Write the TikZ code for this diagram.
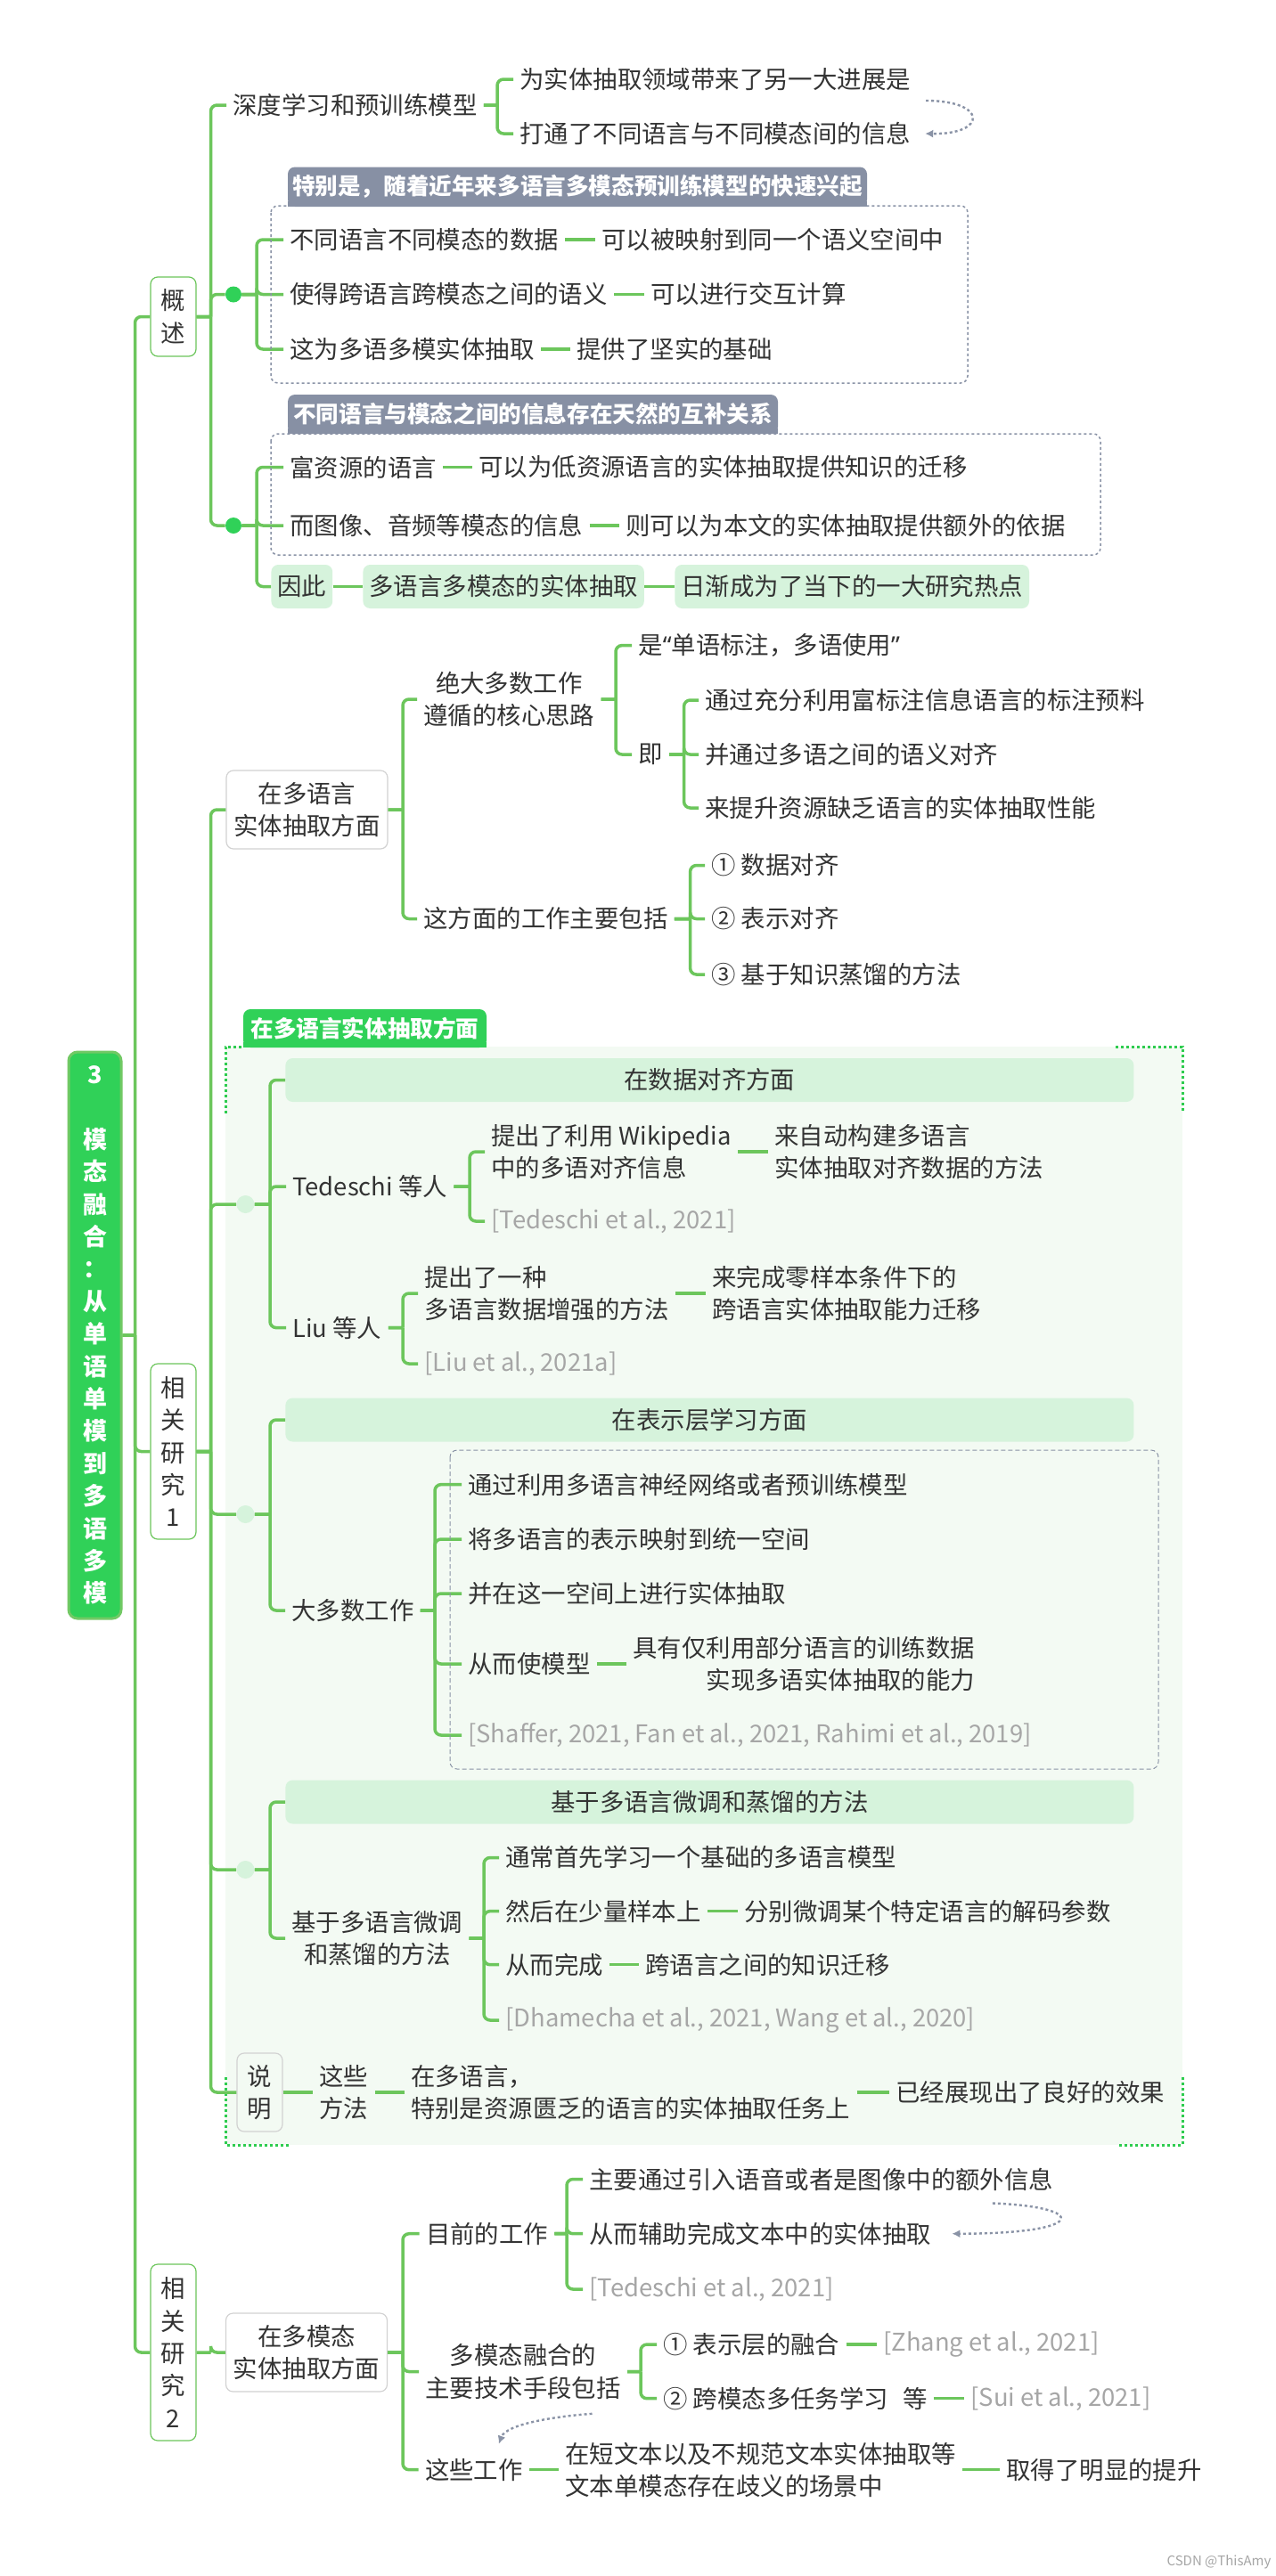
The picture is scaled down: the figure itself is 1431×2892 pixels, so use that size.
\documentclass[tikz,border=0pt]{standalone}
\usepackage{fontspec}
\setmainfont{Noto Sans CJK SC}
\newfontfamily\latinfont{Noto Sans}
\usetikzlibrary{arrows.meta}

\definecolor{linkgreen}{HTML}{6CC65C}
\definecolor{rootgreen}{HTML}{30D158}
\definecolor{rootedge}{HTML}{72C965}
\definecolor{palegreen}{HTML}{D6F3DC}
\definecolor{regiongreen}{HTML}{F3FAF3}
\definecolor{tabgrey}{HTML}{8790A4}
\definecolor{dashgrey}{HTML}{8A93A6}
\definecolor{ink}{HTML}{333333}
\definecolor{citegrey}{HTML}{A6A6A6}
\definecolor{boxgrey}{HTML}{D2D2D2}
\definecolor{framegreen}{HTML}{2ECC4F}

\newcommand{\mainfs}{\fontsize{13.7pt}{18.2pt}\selectfont}
\newcommand{\tabfs}{\fontsize{12.8pt}{15pt}\selectfont\bfseries}
\newcommand{\rootfs}{\fontsize{13.5pt}{18.2pt}\selectfont\bfseries}

\tikzset{
	txt/.style={anchor=west, inner xsep=3.5pt, inner ysep=2pt, text=ink, font=\mainfs, align=left},
	cite/.style={txt, text=citegrey},
	rootbox/.style={fill=rootgreen, draw=rootedge, line width=1.5pt, rounded corners=5pt,
		minimum width=29.5pt, minimum height=318pt, inner sep=0pt, text=white, font=\rootfs, align=center},
	lvbox/.style={draw=linkgreen, line width=0.6pt, fill=white, rounded corners=4pt,
		minimum width=25.5pt, inner sep=0pt, text=ink, font=\mainfs, align=center},
	lbox/.style={draw=boxgrey, line width=0.6pt, fill=white, rounded corners=4pt,
		minimum width=90.5pt, minimum height=44pt, inner sep=0pt, text=ink, font=\mainfs, align=center},
	notebox/.style={lbox, fill=regiongreen, minimum width=25.5pt},
	hdbox/.style={anchor=west, fill=palegreen, rounded corners=4pt, minimum width=476pt,
		minimum height=24.5pt, inner sep=0pt, text=ink, font=\mainfs},
	pill/.style={txt, fill=palegreen, rounded corners=4pt, minimum height=24.5pt},
	tab/.style={fill=tabgrey, rounded corners=4pt, inner sep=0pt, text=white, font=\tabfs},
	gtab/.style={tab, fill=rootgreen},
	dot/.style={circle, fill=rootgreen, minimum size=9pt, inner sep=0pt},
	ldot/.style={circle, fill=palegreen, minimum size=10pt, inner sep=0pt},
	conn/.style={color=linkgreen, line width=1.75pt, rounded corners=3.5pt},
	fork/.style={to path={(\tikztostart.east) -- (#1,0 |- \tikztostart.east)
		(#1,0 |- \tikztostart.east) |- (\tikztotarget.west)}},
	grpbox/.style={draw=dashgrey, line width=0.75pt, dash pattern=on 1.5pt off 1.5pt, rounded corners=4pt},
	grpdash/.style={draw=dashgrey, line width=0.5pt, dash pattern=on 2.5pt off 1.5pt, rounded corners=4pt},
	frame/.style={draw=framegreen, line width=1.5pt, dash pattern=on 1.5pt off 1.5pt},
	rel/.style={draw=dashgrey, line width=1.2pt, dash pattern=on 1.5pt off 1.5pt, -{Latex[length=4.5pt, width=4.5pt]}}
}

\begin{document}
\begin{tikzpicture}[x=0.5pt, y=-0.5pt]
	\useasboundingbox (0,0) rectangle (1431,2892);
	\fill[white] (0,0) rectangle (1431,2892);
	\fill[regiongreen] (253,1175) rectangle (1327,2408);
	\draw[frame] (253,1250) -- (253,1175) -- (273,1175);
	\draw[frame] (1252,1175) -- (1327,1175) -- (1327,1250);
	\draw[frame] (253,2332) -- (253,2408) -- (324,2408);
	\draw[frame] (1256,2408) -- (1327,2408) -- (1327,2332);

	\node[rootbox] (root) at (106.5,1499) {3\\[18.2pt]模\\态\\融\\合\\：\\从\\单\\语\\单\\模\\到\\多\\语\\多\\模};

	\node[lvbox, minimum height=44.5pt] (gaishu) at (194.5,355.5) {概\\述};
	\node[txt] (shendu) at (254,118) {深度学习和预训练模型};
	\node[txt] (s1) at (576,89) {为实体抽取领域带来了另一大进展是};
	\node[txt] (s2) at (576,150) {打通了不同语言与不同模态间的信息};
	\node[dot] (dotA) at (262,330.5) {};
	\node[dot] (dotB) at (262,590) {};
	\node[txt] (g1a) at (318,269) {不同语言不同模态的数据};
	\node[txt] (g1a2) at (668,269) {可以被映射到同一个语义空间中};
	\node[txt] (g1b) at (318,330.5) {使得跨语言跨模态之间的语义};
	\node[txt] (g1b2) at (723,330.5) {可以进行交互计算};
	\node[txt] (g1c) at (318,392) {这为多语多模实体抽取};
	\node[txt] (g1c2) at (640,392) {提供了坚实的基础};
	\node[txt] (g2a) at (318,524.5) {富资源的语言};
	\node[txt] (g2a2) at (530,524.5) {可以为低资源语言的实体抽取提供知识的迁移};
	\node[txt] (g2b) at (318,590) {而图像、音频等模态的信息};
	\node[txt] (g2b2) at (695,590) {则可以为本文的实体抽取提供额外的依据};
	\node[pill] (yinci) at (304,658.5) {因此};
	\node[pill] (duo) at (407,658.5) {多语言多模态的实体抽取};
	\node[pill] (rijian) at (757,658.5) {日渐成为了当下的一大研究热点};

	\node[lvbox, minimum height=98.5pt] (yj1) at (194.5,1629.5) {相\\关\\研\\究\\1};
	\node[lbox] (ml) at (344.5,909) {在多语言\\实体抽取方面};
	\node[txt, align=center] (hx) at (468,785) {绝大多数工作\\遵循的核心思路};
	\node[txt] (bf) at (468,1031.5) {这方面的工作主要包括};
	\node[txt] (sy) at (709,724.6) {是{\latinfont“}单语标注，多语使用{\latinfont”}};
	\node[txt] (ji) at (709,847) {即};
	\node[txt] (j1) at (784,786) {通过充分利用富标注信息语言的标注预料};
	\node[txt] (j2) at (784,847) {并通过多语之间的语义对齐};
	\node[txt] (j3) at (784,907) {来提升资源缺乏语言的实体抽取性能};
	\node[txt] (b1) at (791,971.5) {① 数据对齐};
	\node[txt] (b2) at (791,1031.5) {② 表示对齐};
	\node[txt] (b3) at (791,1094) {③ 基于知识蒸馏的方法};

	\node[ldot] (dotC) at (275.5,1352) {};
	\node[ldot] (dotD) at (275.5,1700) {};
	\node[ldot] (dotE) at (275.5,2099) {};
	\node[hdbox] (hdA) at (320,1212.5) {在数据对齐方面};
	\node[txt] (ted) at (321,1332) {Tedeschi 等人};
	\node[txt] (tw) at (544,1293) {提出了利用 Wikipedia\\中的多语对齐信息};
	\node[txt] (tw2) at (862,1293) {来自动构建多语言\\实体抽取对齐数据的方法};
	\node[cite] (tc) at (544,1371) {[Tedeschi et al., 2021]};
	\node[txt] (liu) at (321,1490.6) {Liu 等人};
	\node[txt] (lz) at (469,1452) {提出了一种\\多语言数据增强的方法};
	\node[txt] (lz2) at (792,1452) {来完成零样本条件下的\\跨语言实体抽取能力迁移};
	\node[cite] (lc) at (469,1531) {[Liu et al., 2021a]};

	\node[hdbox] (hdB) at (320,1594) {在表示层学习方面};
	\node[txt] (dsg) at (320,1808) {大多数工作};
	\node[txt] (r1) at (518,1666.6) {通过利用多语言神经网络或者预训练模型};
	\node[txt] (r2) at (518,1728) {将多语言的表示映射到统一空间};
	\node[txt] (r3) at (518,1789) {并在这一空间上进行实体抽取};
	\node[txt] (r4) at (518,1868) {从而使模型};
	\node[txt, align=right] (r4b) at (703,1868) {具有仅利用部分语言的训练数据\\实现多语实体抽取的能力};
	\node[cite] (r5) at (518,1948) {[Shaffer, 2021, Fan et al., 2021, Rahimi et al., 2019]};

	\node[hdbox] (hdC) at (320,2023) {基于多语言微调和蒸馏的方法};
	\node[txt, align=center] (jy) at (320,2176) {基于多语言微调\\和蒸馏的方法};
	\node[txt] (c1) at (560,2085.5) {通常首先学习一个基础的多语言模型};
	\node[txt] (c2) at (560,2145.6) {然后在少量样本上};
	\node[txt] (c2b) at (828,2145.6) {分别微调某个特定语言的解码参数};
	\node[txt] (c3) at (560,2205.7) {从而完成};
	\node[txt] (c3b) at (717,2205.7) {跨语言之间的知识迁移};
	\node[cite] (c4) at (560,2268) {[Dhamecha et al., 2021, Wang et al., 2020]};

	\node[notebox] (shuoming) at (291.5,2349) {说\\明};
	\node[txt] (zx) at (351,2349) {这些\\方法};
	\node[txt] (zs) at (453.6,2349) {在多语言，\\特别是资源匮乏的语言的实体抽取任务上};
	\node[txt] (zyx) at (998,2349) {已经展现出了良好的效果};

	\node[lvbox, minimum height=99pt] (yj2) at (194.5,2641) {相\\关\\研\\究\\2};
	\node[lbox] (mm) at (344,2641) {在多模态\\实体抽取方面};
	\node[txt] (mq) at (470.6,2507.7) {目前的工作};
	\node[txt] (m1) at (654,2446.5) {主要通过引入语音或者是图像中的额外信息};
	\node[txt] (m2) at (654,2507.7) {从而辅助完成文本中的实体抽取};
	\node[cite] (m3) at (654,2570) {[Tedeschi et al., 2021]};
	\node[txt, align=center] (mf) at (470,2662.5) {多模态融合的\\主要技术手段包括};
	\node[txt] (f1) at (737,2632) {① 表示层的融合};
	\node[cite] (f1c) at (984,2632) {[Zhang et al., 2021]};
	\node[txt] (f2) at (737,2692.7) {② 跨模态多任务学习\hspace{8pt}等};
	\node[cite] (f2c) at (1082,2692.7) {[Sui et al., 2021]};
	\node[txt] (zg) at (469.6,2772.7) {这些工作};
	\node[txt] (zgb) at (627,2772.7) {在短文本以及不规范文本实体抽取等\\文本单模态存在歧义的场景中};
	\node[txt] (zgc) at (1122,2772.7) {取得了明显的提升};

	\node[text=citegrey, font=\fontsize{7.5pt}{9pt}\selectfont] (mark) at (1368,2876) {CSDN @ThisAmy};

	\path[conn]
	(root) edge[fork=151.5] (gaishu)
	       edge[fork=151.5] (yj1)
	       edge[fork=151.5] (yj2)
	(gaishu) edge[fork=236.5] (shendu)
	         edge[fork=236.5] (dotA)
	         edge[fork=236.5] (dotB)
	(shendu) edge[fork=558] (s1)
	         edge[fork=558] (s2)
	(dotA) edge[fork=288] (g1a)
	       edge[fork=288] (g1b)
	       edge[fork=288] (g1c)
	(dotB) edge[fork=288] (g2a)
	       edge[fork=288] (g2b)
	       edge[fork=288] (yinci)
	(g1a) edge (g1a2)
	(g1b) edge (g1b2)
	(g1c) edge (g1c2)
	(g2a) edge (g2a2)
	(g2b) edge (g2b2)
	(yinci) edge (duo)
	(duo) edge (rijian)
	(yj1) edge[fork=236.5] (ml)
	      edge[fork=236.5] (dotC)
	      edge[fork=236.5] (dotD)
	      edge[fork=236.5] (dotE)
	      edge[fork=236.5] (shuoming)
	(ml) edge[fork=452] (hx)
	     edge[fork=452] (bf)
	(hx) edge[fork=691] (sy)
	     edge[fork=691] (ji)
	(ji) edge[fork=767.6] (j1)
	     edge[fork=767.6] (j2)
	     edge[fork=767.6] (j3)
	(bf) edge[fork=774.6] (b1)
	     edge[fork=774.6] (b2)
	     edge[fork=774.6] (b3)
	(dotC) edge[fork=303] (hdA)
	       edge[fork=303] (ted)
	       edge[fork=303] (liu)
	(ted) edge[fork=527] (tw)
	      edge[fork=527] (tc)
	(tw) edge (tw2)
	(liu) edge[fork=452] (lz)
	      edge[fork=452] (lc)
	(lz) edge (lz2)
	(dotD) edge[fork=303] (hdB)
	       edge[fork=303] (dsg)
	(dsg) edge[fork=488] (r1)
	      edge[fork=488] (r2)
	      edge[fork=488] (r3)
	      edge[fork=488] (r4)
	      edge[fork=488] (r5)
	(r4) edge (r4b)
	(dotE) edge[fork=303] (hdC)
	       edge[fork=303] (jy)
	(jy) edge[fork=543] (c1)
	     edge[fork=543] (c2)
	     edge[fork=543] (c3)
	     edge[fork=543] (c4)
	(c2) edge (c2b)
	(c3) edge (c3b)
	(shuoming) edge (zx)
	(zx) edge (zs)
	(zs) edge (zyx)
	(yj2) edge[fork=236.5] (mm)
	(mm) edge[fork=452] (mq)
	     edge[fork=452] (mf)
	     edge[fork=452] (zg)
	(mq) edge[fork=636] (m1)
	     edge[fork=636] (m2)
	     edge[fork=636] (m3)
	(mf) edge[fork=719] (f1)
	     edge[fork=719] (f2)
	(f1) edge (f1c)
	(f2) edge (f2c)
	(zg) edge (zgb)
	(zgb) edge (zgc);

	\draw[grpbox] (304,231) rectangle (1086,430);
	\draw[grpbox] (304,487) rectangle (1235,623);
	\draw[grpdash] (505,1628) rectangle (1300,1986);

	\node[tab, minimum width=325pt, minimum height=22.25pt] (tabA) at (648,209.75) {特别是，随着近年来多语言多模态预训练模型的快速兴起};
	\fill[tabgrey] (tabA.south west) rectangle ([yshift=3pt]tabA.south east);
	\node[tab, minimum width=275pt, minimum height=22pt] (tabB) at (598,465) {不同语言与模态之间的信息存在天然的互补关系};
	\fill[tabgrey] (tabB.south west) rectangle ([yshift=3pt]tabB.south east);
	\node[gtab, minimum width=136.5pt, minimum height=21.5pt] (tabC) at (409.5,1154.5) {在多语言实体抽取方面};
	\fill[rootgreen] (tabC.south west) rectangle ([yshift=3pt]tabC.south east);

	\draw[rel] ([shift={(10,24)}]s1.east) .. controls +(69,0) and +(70,1) .. ([xshift=4.5pt]s2.east);
	\draw[rel] ([shift={(-75.5,27)}]m1.east) .. controls +(108,4) and +(154,0) .. ([xshift=8pt]m2.east);
	\coordinate (fuse) at ([shift={(-39.5,12)}]mf.south east);
	\coordinate (work) at ([shift={(28,-12)}]zg.north);
	\draw[rel] (fuse) .. controls +(-43,3) and +(8,-22) .. (work);
\end{tikzpicture}
\end{document}
